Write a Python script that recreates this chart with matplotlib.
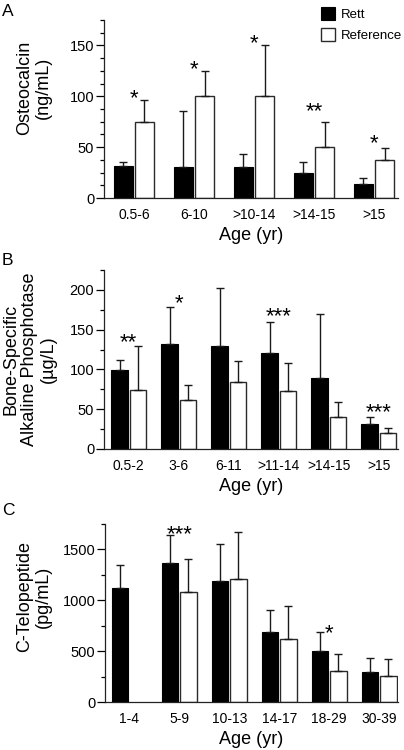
import matplotlib.pyplot as plt
import numpy as np
from matplotlib.ticker import MultipleLocator

plt.rcParams["font.family"] = ["Liberation Sans", "DejaVu Sans"]

# panel A: osteocalcin
a_groups = ["0.5-6", "6-10", ">10-14", ">14-15", ">15"]
a_rett = [31, 30, 30, 25, 14]
a_rett_top = [35, 86, 43, 35, 20]
a_ref = [75, 100, 100, 50, 37]
a_ref_top = [96, 125, 150, 75, 49]
a_stars = ["*", "*", "*", "**", "*"]
a_star_y = [105, 133, 159, 92, 60]

# panel B: bone-specific alkaline phosphatase
b_groups = ["0.5-2", "3-6", "6-11", ">11-14", ">14-15", ">15"]
b_rett = [99, 132, 129, 121, 89, 31]
b_rett_top = [112, 179, 202, 160, 170, 40]
b_ref = [74, 62, 84, 73, 40, 20]
b_ref_top = [130, 81, 110, 108, 59, 26]
b_stars = ["**", "*", "", "***", "", "***"]
b_star_y = [142, 191, 0, 175, 0, 54]

# panel C: C-telopeptide
c_groups = ["1-4", "5-9", "10-13", "14-17", "18-29", "30-39"]
c_rett = [1120, 1365, 1185, 690, 503, 294]
c_rett_top = [1343, 1640, 1549, 902, 686, 428]
c_ref = [np.nan, 1078, 1206, 618, 304, 258]
c_ref_top = [np.nan, 1410, 1667, 948, 471, 418]
c_stars = ["", "***", "", "", "*", ""]
c_star_y = [0, 1710, 0, 0, 745, 0]

W, H = 404, 750
fig = plt.figure(figsize=(W / 100, H / 100), dpi=100)


def px_axes(left, right, top, bottom):
    return fig.add_axes([left / W, 1 - bottom / H, (right - left) / W, (bottom - top) / H])


def panel(ax, groups, rett, rett_top, ref, ref_top, stars, star_y, ymax, major, minor,
          xlim, bw, ylabel, lab_xy):
    x = np.arange(len(groups))
    off = bw / 2 + 0.017
    rett = np.array(rett, float)
    ref = np.array(ref, float)
    ekw = dict(ecolor="#1a1a1a", elinewidth=1.0, capsize=2.6, capthick=1.0)
    ax.bar(x - off, rett, bw, color="black", edgecolor="black", linewidth=0.8,
           yerr=[np.zeros_like(rett), np.array(rett_top) - rett], error_kw=ekw,
           label="Rett", zorder=2)
    ax.bar(x + off, ref, bw, color="white", edgecolor="#2a2a2a", linewidth=1.0,
           yerr=[np.zeros_like(ref), np.array(ref_top) - ref], error_kw=ekw,
           label="Reference", zorder=2)
    for xi, s, sy in zip(x, stars, star_y):
        if s:
            ax.annotate(s, (xi, sy), xytext=(0, -9), textcoords="offset points",
                        ha="center", va="baseline", fontsize=16)
    ax.set_xlim(*xlim)
    ax.set_ylim(0, ymax)
    ax.yaxis.set_major_locator(MultipleLocator(major))
    ax.yaxis.set_minor_locator(MultipleLocator(minor))
    ax.set_xticks(x)
    ax.set_xticklabels(groups)
    ax.tick_params(axis="x", length=0, pad=7, labelsize=10)
    ax.tick_params(axis="y", which="major", length=6, width=0.9, pad=1, labelsize=10.5)
    ax.tick_params(axis="y", which="minor", length=3, width=0.9)
    for s in ("top", "right"):
        ax.spines[s].set_visible(False)
    for s in ("left", "bottom"):
        ax.spines[s].set_linewidth(0.9)
        ax.spines[s].set_color("#222222")
    ax.set_xlabel("Age (yr)", fontsize=13, labelpad=4)
    ax.set_ylabel(ylabel, fontsize=13, va="center", linespacing=1.1)
    ax.yaxis.set_label_coords(*lab_xy)


ax_a = px_axes(104, 398, 20, 198)
panel(ax_a, a_groups, a_rett, a_rett_top, a_ref, a_ref_top, a_stars, a_star_y,
      175, 50, 12.5, (-0.497, 4.40), 0.32, "Osteocalcin\n(ng/mL)", (-0.238, 0.618))
ax_a.legend(loc="upper left", bbox_to_anchor=(321 / W, 1 - 7 / H),
            bbox_transform=fig.transFigure, frameon=False, fontsize=9.5,
            handlelength=1.05, handleheight=1.1, handletextpad=0.45,
            labelspacing=0.55, borderpad=0, borderaxespad=0)

ax_b = px_axes(104, 398, 270, 449)
panel(ax_b, b_groups, b_rett, b_rett_top, b_ref, b_ref_top, b_stars, b_star_y,
      225, 50, 25, (-0.496, 5.38), 0.333,
      "Bone-Specific\nAlkaline Phosphotase\n(µg/L)", (-0.253, 0.5))

ax_c = px_axes(105, 398, 524, 702)
panel(ax_c, c_groups, c_rett, c_rett_top, c_ref, c_ref_top, c_stars, c_star_y,
      1750, 500, 250, (-0.484, 5.376), 0.333, "C-Telopeptide\n(pg/mL)", (-0.242, 0.59))

for lab, ytop in (("A", 4), ("B", 253), ("C", 503)):
    fig.text(2 / W, 1 - ytop / H, lab, fontsize=12.5, ha="left", va="top")

fig.savefig("out.png", dpi=100)
